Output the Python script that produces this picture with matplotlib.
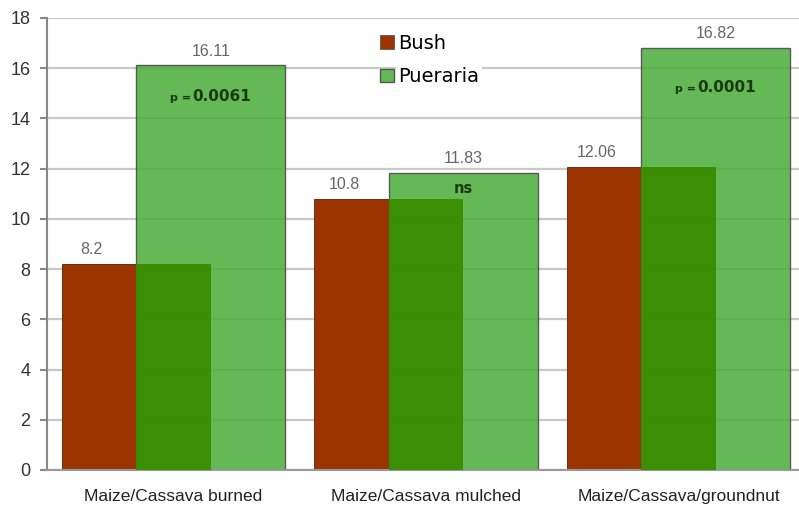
import matplotlib.pyplot as plt
import numpy as np

# data
systems = ["Maize/Cassava burned", "Maize/Cassava mulched", "Maize/Cassava/groundnut"]
bush = [8.2, 10.8, 12.06]
pueraria = [16.11, 11.83, 16.82]
bush_labels = ["8.2", "10.8", "12.06"]
pueraria_labels = ["16.11", "11.83", "16.82"]
p_values = ["0.0061", "", "0.0001"]

red = "#9b3400"
dark_green = "#3a8c00"
light_green = "#4eb03e"

fig = plt.figure(figsize=(7.99, 5.07), dpi=100)
ax = fig.add_axes([0.0588, 0.073, 0.9412, 0.8915])

x = np.arange(len(systems))
w = 0.295
left = x - 0.4426

# gridlines first, bars over them
ax.set_axisbelow(True)
ax.yaxis.grid(True, color="#c8c8c8", linewidth=1.6)

ax.bar(left, bush, width=w, align="edge", color=red, edgecolor="#5a2000", linewidth=0.6, zorder=2)
ax.bar(left + w, pueraria, width=2 * w, align="edge", color=light_green, alpha=0.88,
       edgecolor="#4a4a4a", linewidth=1.0, zorder=2)
# darker part where the bush bar is repeated inside the pueraria bar
ax.bar(left + w, bush, width=w, align="edge", color=dark_green, alpha=0.95, linewidth=0, zorder=3)

# value labels
for i in range(len(x)):
    ax.annotate(bush_labels[i], (left[i] + w / 2 - 0.03, bush[i]), xytext=(0, 5),
                textcoords="offset points", ha="center", va="bottom",
                fontsize=11.5, color="#666666", family="Liberation Sans")
    ax.annotate(pueraria_labels[i], (left[i] + 2 * w, pueraria[i]), xytext=(0, 5),
                textcoords="offset points", ha="center", va="bottom",
                fontsize=11.5, color="#666666", family="Liberation Sans")

# significance labels inside the green bars
offs = [-31, -16, -40]
for i in range(len(x)):
    xy = (left[i] + 2 * w, pueraria[i])
    dy = offs[i] * 0.72
    if p_values[i]:
        ax.annotate(p_values[i], xy, xytext=(-13, dy), textcoords="offset points",
                    ha="left", va="center", fontsize=11, fontweight="bold", color="#1c3a10")
        ax.annotate("p =", xy, xytext=(-14, dy - 1), textcoords="offset points",
                    ha="right", va="center", fontsize=8, fontweight="bold", color="#1c3a10")
    else:
        ax.annotate("ns", xy, xytext=(0, dy), textcoords="offset points",
                    ha="center", va="center", fontsize=10.5, fontweight="bold", color="#1c3a10")

ax.set_xlim(-0.501, 2.477)
ax.set_ylim(0, 18)
ax.set_yticks(np.arange(0, 19, 2))
ax.set_xticks(x)
ax.set_xticklabels(systems, family="Liberation Sans", fontsize=12.5, color="#222222")
for t in ax.get_yticklabels():
    t.set_family("Liberation Sans")
ax.tick_params(axis="y", length=5, color="#888888", width=1.5, pad=7,
               labelsize=13, labelcolor="#333333")
ax.tick_params(axis="x", length=0, pad=14)

for s in ["top", "right"]:
    ax.spines[s].set_visible(False)
ax.spines["left"].set_color("#888888")
ax.spines["left"].set_linewidth(1.5)
ax.spines["bottom"].set_color("#999999")
ax.spines["bottom"].set_linewidth(1.5)

leg = ax.legend(["Bush", "Pueraria"], loc="upper left", bbox_to_anchor=(0.443, 0.965),
                frameon=False, fontsize=14, handlelength=0.7, handleheight=0.7,
                handletextpad=0.25, labelspacing=0.75, borderpad=0, borderaxespad=0)
# legend marks only, the dark green piece is not a series
leg.legend_handles[0].set_facecolor(red)
leg.legend_handles[1].set_facecolor("#63b955")
leg.legend_handles[1].set_alpha(1)
for h in leg.legend_handles:
    h.set_edgecolor("#555555")
for t in leg.get_texts():
    t.set_bbox(dict(facecolor="white", edgecolor="none", pad=2))

fig.savefig("out.png", dpi=100)
